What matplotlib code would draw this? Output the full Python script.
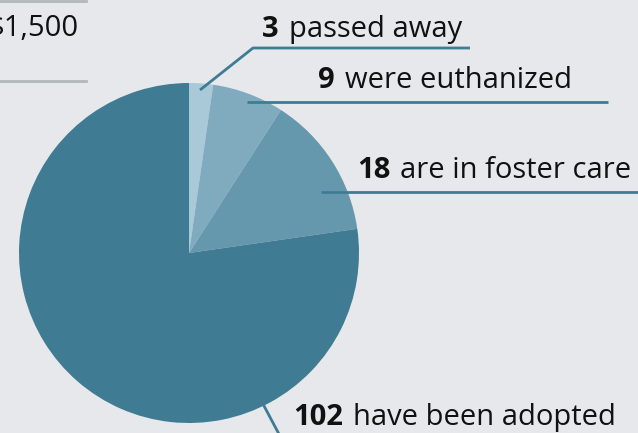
import matplotlib.pyplot as plt

# outcome counts, clockwise from the top
labels = ['passed away', 'were euthanized', 'are in foster care', 'have been adopted']
counts = [3, 9, 18, 102]
colors = ['#a9c9d8', '#80abbf', '#6698ad', '#3f7c93']

W, H = 638, 433
bg = '#e7e8ec'
line_col = '#3f7c93'

plt.rcParams['font.family'] = ['Open Sans', 'DejaVu Sans']

fig = plt.figure(figsize=(W / 100, H / 100), dpi=100, facecolor=bg)
ax = fig.add_axes([0, 0, 1, 1])
ax.set_facecolor(bg)

# pie, centre and radius in pixel units (y measured from bottom)
cx, cy, r = 189, H - 253, 170
ax.pie(counts, colors=colors, startangle=90, counterclock=False,
       center=(cx, cy), radius=r, wedgeprops=dict(linewidth=0))

ax.set_xlim(0, W)
ax.set_ylim(0, H)
ax.set_aspect('equal')
ax.axis('off')

def y(p):
    return H - p

# leader lines: (points in pixels from top-left)
leaders = [
    [(200, 90), (253, 48), (470, 48)],
    [(247, 102), (608, 102)],
    [(321, 192), (640, 192)],
    [(263, 404), (280, 436)],
]
for pts in leaders:
    ax.plot([p[0] for p in pts], [y(p[1]) for p in pts], color=line_col,
            lw=2, solid_capstyle='butt', clip_on=False)

# label anchors (left x, baseline y)
anchors = [(262, 37), (318, 88), (357, 178), (293, 425)]
fs = 21
for (lx, ly), n, lab in zip(anchors, counts, labels):
    t = ax.text(lx, y(ly), str(n), fontsize=fs, fontweight='bold',
                color='#111111', ha='left', va='baseline')
    fig.canvas.draw()
    bb = t.get_window_extent()
    ax.text(bb.x1 + 10, y(ly), lab, fontsize=fs, color='#111111',
            ha='left', va='baseline')

# cut-off text block at top left (cropped in the source too)
ax.plot([0, 86], [y(1), y(1)], color='#b3b6bb', lw=2, clip_on=False)
ax.plot([0, 86], [y(81), y(81)], color='#b3b6bb', lw=2, clip_on=False)
ax.text(78, y(36), '$1,500', fontsize=fs, color='#111111', ha='right',
        va='baseline')

fig.savefig('out.png', dpi=100, facecolor=bg)
